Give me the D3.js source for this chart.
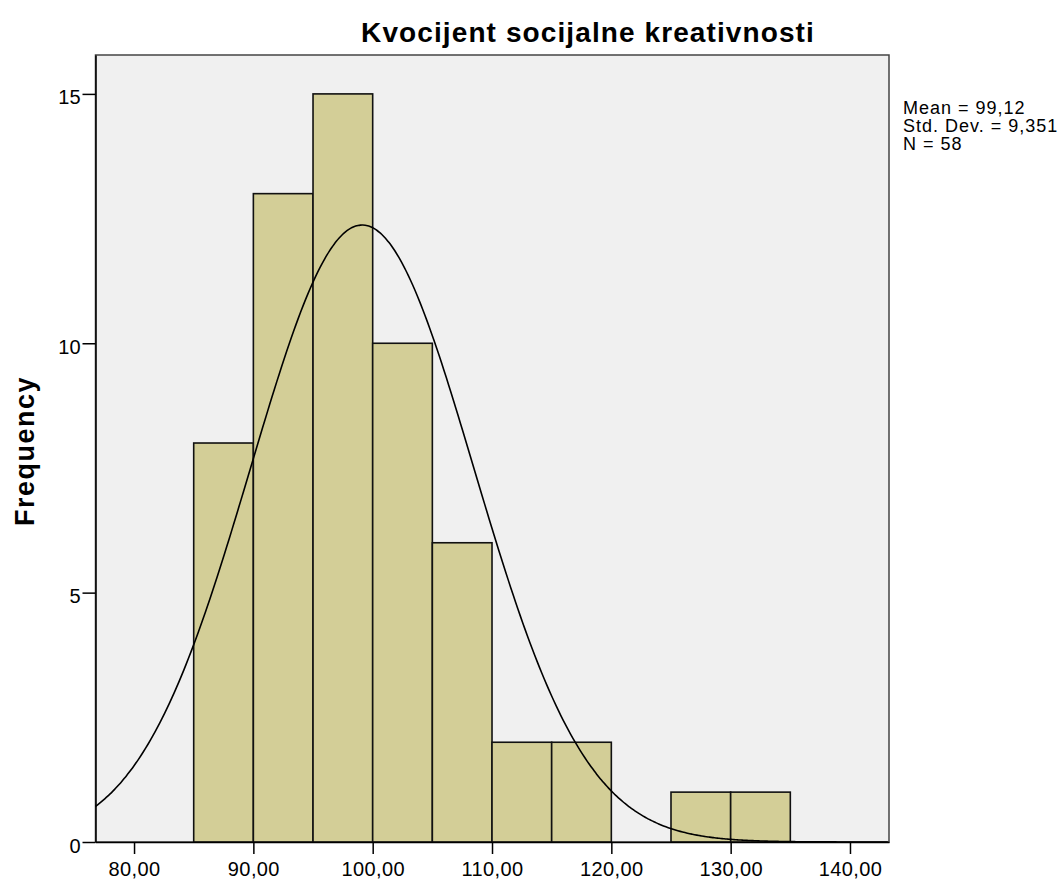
<!DOCTYPE html>
<html>
  <head>
    <meta charset="UTF-8">
    <title>Kvocijent socijalne kreativnosti</title>
    <script src="https://d3js.org/d3.v7.min.js"></script>
    <style>
      body { margin: 0; background: #fff; }
      text { font-family: "Liberation Sans", Arial, sans-serif; fill: #000; }
    </style>
  </head>

  <body>
    <div class="chart"></div>

    <script type="application/javascript">
      // bins of width 5 and their counts
      const binStarts = [85, 90, 95, 100, 105, 110, 115, 125, 130];
      const counts = [8, 13, 15, 10, 6, 2, 2, 1, 1];
      const binWidth = 5;
      const xTicks = [80, 90, 100, 110, 120, 130, 140];
      const yTicks = [0, 5, 10, 15];
      const mean = 99.12, sd = 9.351, n = 58;
      const statLines = ["Mean = 99,12", "Std. Dev. = 9,351", "N = 58"];

      const W = 1064, H = 880;
      const plotLeft = 95.5, plotRight = 889, plotTop = 55, plotBottom = 842;

      const svg = d3.select(".chart").append("svg")
              .attr("width", W).attr("height", H)

      const x = d3.scaleLinear().domain([76.77, 143.27]).range([plotLeft, plotRight]);
      const y = d3.scaleLinear().domain([0, 15.78]).range([plotBottom, plotTop]);

      svg.append("rect")
        .attr("x", plotLeft).attr("y", plotTop)
        .attr("width", plotRight - plotLeft).attr("height", plotBottom - plotTop)
        .attr("fill", "#f0f0f0")
        .attr("stroke", "#444").attr("stroke-width", 1.5)

      svg.append("g").selectAll("rect")
        .data(binStarts)
        .join("rect")
        .attr("x", d => x(d))
        .attr("y", (d, i) => y(counts[i]))
        .attr("width", d => x(d + binWidth) - x(d))
        .attr("height", (d, i) => y(0) - y(counts[i]))
        .attr("fill", "#d3ce97")
        .attr("stroke", "#111").attr("stroke-width", 1.6)

      // fitted normal curve scaled to counts
      const pdf = v => n * binWidth * Math.exp(-0.5 * ((v - mean) / sd) ** 2) / (sd * Math.sqrt(2 * Math.PI));
      const xs = d3.range(x.domain()[0], x.domain()[1], 0.2);
      const line = d3.line().x(d => x(d)).y(d => y(pdf(d))).curve(d3.curveBasis);
      svg.append("path")
        .datum(xs)
        .attr("d", line)
        .attr("fill", "none")
        .attr("stroke", "#000").attr("stroke-width", 1.6)

      const xAxis = d3.axisBottom(x).tickValues(xTicks)
              .tickFormat(d => d3.format(".2f")(d).replace(".", ","))
              .tickSize(12).tickSizeOuter(0);
      const gx = svg.append("g").attr("transform", `translate(0, ${plotBottom})`).call(xAxis);
      gx.select(".domain").attr("stroke", "#000").attr("stroke-width", 1.5);
      gx.selectAll(".tick line").attr("stroke", "#000").attr("stroke-width", 1.5);
      gx.selectAll(".tick text").attr("font-size", 20).attr("y", 34).attr("dy", 0)
        .attr("letter-spacing", 0.4).attr("fill", "#111")
        .style("font-family", "Liberation Sans, Arial, sans-serif");

      const yAxis = d3.axisLeft(y).tickValues(yTicks).tickSize(13).tickSizeOuter(0);
      const gy = svg.append("g").attr("transform", `translate(${plotLeft}, 0)`).call(yAxis);
      gy.select(".domain").attr("stroke", "#000").attr("stroke-width", 1.5);
      gy.selectAll(".tick line").attr("stroke", "#000").attr("stroke-width", 1.5);
      gy.selectAll(".tick text").attr("font-size", 20).attr("x", -14.5).attr("dy", "0.5em")
        .attr("letter-spacing", 0.3).attr("fill", "#111")
        .style("font-family", "Liberation Sans, Arial, sans-serif");

      svg.append("text")
        .attr("x", 588).attr("y", 42)
        .attr("text-anchor", "middle")
        .attr("font-size", 28).attr("font-weight", "bold")
        .attr("letter-spacing", 1.1)
        .text("Kvocijent socijalne kreativnosti")

      svg.append("text")
        .attr("transform", "translate(34, 451) rotate(-90)")
        .attr("text-anchor", "middle")
        .attr("font-size", 27).attr("font-weight", "bold")
        .attr("letter-spacing", 1.5)
        .text("Frequency")

      svg.append("g").selectAll("text")
        .data(statLines)
        .join("text")
        .attr("x", 903)
        .attr("y", (d, i) => 114 + i * 18)
        .attr("font-size", 18)
        .attr("letter-spacing", 1)
        .text(d => d)
    </script>
  </body>

</html>
